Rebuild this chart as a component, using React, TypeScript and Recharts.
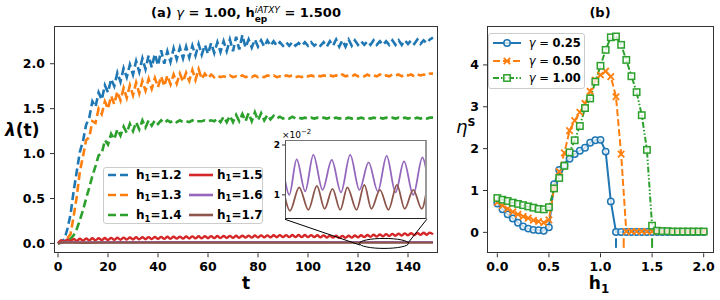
import React from "react";
import { LineChart, Line, XAxis, YAxis, ReferenceLine, ReferenceDot } from "recharts";

const FONT = "'DejaVu Sans', sans-serif";
const BLUE = "#1f77b4";
const ORANGE = "#ff7f0e";
const GREEN = "#2ca02c";
const RED = "#d62728";
const PURPLE = "#9467bd";
const BROWN = "#8c564b";

// ---- panel (a): lambda(t) ----
const T = [
  0, 1.25, 2.5, 3.75, 5, 6.25, 7.5, 8.75, 10, 11.25,
  12.5, 13.75, 15, 16.25, 17.5, 18.75, 20, 21.25, 22.5, 23.75,
  25, 26.25, 27.5, 28.75, 30, 31.25, 32.5, 33.75, 35, 36.25,
  37.5, 38.75, 40, 41.25, 42.5, 43.75, 45, 46.25, 47.5, 48.75,
  50, 51.25, 52.5, 53.75, 55, 56.25, 57.5, 58.75, 60, 61.25,
  62.5, 63.75, 65, 66.25, 67.5, 68.75, 70, 71.25, 72.5, 73.75,
  75, 76.25, 77.5, 78.75, 80, 81.25, 82.5, 83.75, 85, 86.25,
  87.5, 88.75, 90, 91.25, 92.5, 93.75, 95, 96.25, 97.5, 98.75,
  100, 101.25, 102.5, 103.75, 105, 106.25, 107.5, 108.75, 110, 111.25,
  112.5, 113.75, 115, 116.25, 117.5, 118.75, 120, 121.25, 122.5, 123.75,
  125, 126.25, 127.5, 128.75, 130, 131.25, 132.5, 133.75, 135, 136.25,
  137.5, 138.75, 140, 141.25, 142.5, 143.75, 145, 146.25, 147.5, 148.75,
  150,
];

const LAM_12 = [
  0, 0.03, 0.04, 0.16, 0.32, 0.58, 0.8, 1.02, 1.14, 1.32,
  1.4, 1.58, 1.52, 1.68, 1.6, 1.76, 1.68, 1.83, 1.75, 1.9,
  1.8, 1.95, 1.85, 1.99, 1.88, 2.03, 1.91, 2.06, 1.94, 2.09,
  1.96, 2.11, 1.98, 2.15, 2.0, 2.14, 2.02, 2.17, 2.05, 2.18,
  2.06, 2.19, 2.07, 2.2, 2.09, 2.22, 2.1, 2.21, 2.11, 2.23,
  2.12, 2.24, 2.13, 2.25, 2.14, 2.27, 2.14, 2.3, 2.16, 2.32,
  2.18, 2.27, 2.18, 2.27, 2.19, 2.26, 2.19, 2.26, 2.2, 2.25,
  2.2, 2.24, 2.2, 2.24, 2.2, 2.24, 2.2, 2.23, 2.2, 2.24,
  2.2, 2.24, 2.2, 2.23, 2.2, 2.24, 2.19, 2.25, 2.2, 2.27,
  2.19, 2.26, 2.19, 2.27, 2.2, 2.26, 2.21, 2.25, 2.21, 2.25,
  2.21, 2.26, 2.21, 2.25, 2.21, 2.25, 2.21, 2.26, 2.21, 2.26,
  2.21, 2.26, 2.22, 2.26, 2.22, 2.27, 2.22, 2.26, 2.23, 2.27,
  2.29,
];

const LAM_13 = [
  0, 0.03, 0.02, 0.06, 0.1, 0.3, 0.52, 0.8, 0.97, 1.15,
  1.18, 1.36, 1.34, 1.5, 1.44, 1.58, 1.5, 1.64, 1.55, 1.69,
  1.59, 1.73, 1.62, 1.76, 1.65, 1.79, 1.67, 1.81, 1.7, 1.83,
  1.72, 1.84, 1.74, 1.86, 1.75, 1.87, 1.77, 1.88, 1.78, 1.89,
  1.8, 1.9, 1.81, 1.93, 1.82, 1.94, 1.83, 1.89, 1.84, 1.88,
  1.85, 1.87, 1.85, 1.86, 1.85, 1.87, 1.85, 1.86, 1.85, 1.87,
  1.85, 1.86, 1.85, 1.87, 1.85, 1.86, 1.85, 1.87, 1.86, 1.87,
  1.85, 1.86, 1.85, 1.87, 1.86, 1.87, 1.85, 1.86, 1.85, 1.87,
  1.86, 1.87, 1.86, 1.87, 1.86, 1.87, 1.86, 1.87, 1.86, 1.87,
  1.86, 1.88, 1.86, 1.87, 1.86, 1.88, 1.86, 1.87, 1.86, 1.88,
  1.86, 1.87, 1.86, 1.88, 1.86, 1.87, 1.86, 1.88, 1.87, 1.88,
  1.86, 1.88, 1.87, 1.88, 1.86, 1.88, 1.87, 1.88, 1.87, 1.89,
  1.89,
];

const LAM_14 = [
  0, 0.01, 0.02, 0.03, 0.05, 0.09, 0.16, 0.26, 0.37, 0.5,
  0.62, 0.75, 0.86, 0.98, 1.0, 1.15, 1.1, 1.22, 1.16, 1.27,
  1.2, 1.3, 1.23, 1.33, 1.25, 1.35, 1.27, 1.37, 1.29, 1.37,
  1.31, 1.37, 1.33, 1.37, 1.34, 1.37, 1.35, 1.37, 1.35, 1.37,
  1.35, 1.36, 1.35, 1.37, 1.35, 1.36, 1.36, 1.37, 1.36, 1.37,
  1.36, 1.39, 1.35, 1.41, 1.35, 1.42, 1.35, 1.43, 1.36, 1.44,
  1.36, 1.45, 1.36, 1.46, 1.37, 1.45, 1.37, 1.43, 1.38, 1.42,
  1.39, 1.41, 1.39, 1.4, 1.39, 1.41, 1.39, 1.4, 1.39, 1.4,
  1.39, 1.4, 1.39, 1.4, 1.39, 1.4, 1.39, 1.4, 1.39, 1.4,
  1.39, 1.4, 1.39, 1.4, 1.39, 1.4, 1.39, 1.4, 1.39, 1.4,
  1.39, 1.4, 1.39, 1.4, 1.39, 1.4, 1.39, 1.4, 1.39, 1.4,
  1.39, 1.4, 1.39, 1.4, 1.39, 1.4, 1.39, 1.4, 1.39, 1.4,
  1.4,
];

const LAM_15 = [
  0, 0.032, 0.02, 0.045, 0.025, 0.05, 0.028, 0.052, 0.03, 0.055,
  0.033, 0.057, 0.035, 0.058, 0.036, 0.06, 0.038, 0.062, 0.04, 0.063,
  0.041, 0.065, 0.043, 0.066, 0.044, 0.068, 0.046, 0.069, 0.047, 0.07,
  0.048, 0.072, 0.05, 0.073, 0.051, 0.074, 0.052, 0.075, 0.053, 0.076,
  0.054, 0.077, 0.055, 0.078, 0.056, 0.079, 0.057, 0.08, 0.058, 0.081,
  0.059, 0.082, 0.06, 0.083, 0.061, 0.084, 0.062, 0.085, 0.063, 0.086,
  0.064, 0.087, 0.065, 0.088, 0.066, 0.089, 0.067, 0.09, 0.068, 0.091,
  0.069, 0.092, 0.07, 0.092, 0.07, 0.093, 0.071, 0.093, 0.071, 0.093,
  0.071, 0.092, 0.07, 0.091, 0.068, 0.089, 0.066, 0.087, 0.064, 0.085,
  0.062, 0.084, 0.062, 0.086, 0.064, 0.088, 0.067, 0.091, 0.07, 0.094,
  0.073, 0.097, 0.076, 0.1, 0.079, 0.103, 0.082, 0.106, 0.085, 0.109,
  0.088, 0.112, 0.091, 0.114, 0.093, 0.116, 0.095, 0.118, 0.097, 0.12,
  0.1,
];

// h1 = 1.6 / 1.7 stay near 1e-2 on the main scale
const LAM_16_T = [0, 2.5, 10, 30, 60, 90, 120, 150];
const LAM_16 = [0, 0.013, 0.012, 0.013, 0.013, 0.013, 0.014, 0.014];
const LAM_17_T = [0, 2.5, 10, 30, 60, 90, 120, 150];
const LAM_17 = [0, 0.01, 0.008, 0.009, 0.009, 0.009, 0.009, 0.009];

// inset, t in [120, 140], values in units of 1e-2
const ZOOM_16_T = [120, 120.6, 121.65, 122.85, 124, 125.3, 126.6, 127.9, 129.2, 130.5, 131.8, 133.1, 134.35, 135.6, 136.8, 138.1, 139.4, 140];
const ZOOM_16 = [1.3, 1.0, 1.71, 1.07, 1.8, 1.1, 1.7, 1.05, 1.8, 1.1, 1.65, 1.07, 1.78, 1.05, 1.67, 1.0, 1.75, 1.45];
const ZOOM_17_T = [120, 120.7, 122, 123.3, 124.5, 125.6, 126.7, 127.8, 128.8, 130.1, 131.2, 132.2, 133.4, 134.6, 135.8, 136.9, 138.1, 139.3, 140];
const ZOOM_17 = [0.95, 0.68, 1.15, 0.7, 1.18, 0.72, 1.12, 0.7, 1.15, 0.7, 1.2, 0.72, 1.1, 0.7, 1.2, 0.72, 1.1, 0.72, 1.1];

const T_TICKS = [0, 20, 40, 60, 80, 100, 120, 140];
const LAM_TICKS = [0, 0.5, 1, 1.5, 2];

// ---- panel (b): eta^S vs h1 ----
const H = [
  0, 0.05, 0.1, 0.15, 0.2, 0.25, 0.3, 0.35, 0.4, 0.45,
  0.5, 0.55, 0.6, 0.65, 0.7, 0.75, 0.8, 0.85, 0.9, 0.95,
  1.0, 1.05, 1.1, 1.15, 1.2, 1.25, 1.3, 1.35, 1.4, 1.45,
  1.5, 1.55, 1.6, 1.65, 1.7, 1.75, 1.8, 1.85, 1.9, 1.95,
  2.0,
];
const ETA_025 = [
  0.69, 0.55, 0.43, 0.33, 0.23, 0.14, 0.09, 0.06, 0.05, 0.04,
  0.12, 1.15, 1.49, 1.6, 1.76, 1.87, 1.95, 2.02, 2.14, 2.2,
  2.21, 1.93, 0.74, 0.01, 0.01, 0.01, 0.01, 0.01, 0.01, 0.01,
  0.01, 0.01, 0.01, 0.01, 0.01, 0.01, 0.01, 0.01, 0.01, 0.01,
  0.01,
];
const ETA_050 = [
  0.72, 0.64, 0.56, 0.49, 0.43, 0.38, 0.34, 0.29, 0.26, 0.23,
  0.3, 1.05, 1.45, 1.9, 2.43, 2.67, 2.87, 3.08, 3.37, 3.64,
  3.76, 3.85, 3.72, 3.24, 1.87, 0.02, 0.02, 0.02, 0.02, 0.02,
  0.02, 0.02, 0.02, 0.02, 0.02, 0.02, 0.02, 0.02, 0.02, 0.02,
  0.02,
];
const ETA_100 = [
  0.82, 0.78, 0.75, 0.71, 0.68, 0.65, 0.62, 0.59, 0.56, 0.55,
  0.6, 1.05, 1.3, 1.59, 1.91, 2.2, 2.54, 2.97, 3.2, 3.6,
  3.98, 4.36, 4.66, 4.68, 4.48, 4.12, 3.73, 3.35, 2.8, 1.97,
  0.16, 0.04, 0.03, 0.03, 0.02, 0.02, 0.02, 0.02, 0.02, 0.02,
  0.02,
];
const H_CRIT = [1.15, 1.225, 1.5];
const H_TICKS = [0, 0.5, 1, 1.5, 2];
const ETA_TICKS = [0, 1, 2, 3, 4];

const rowsA = T.map((t, i) => ({ t, h12: LAM_12[i], h13: LAM_13[i], h14: LAM_14[i], h15: LAM_15[i] }));
const rows16 = LAM_16_T.map((t, i) => ({ t, v: LAM_16[i] }));
const rows17 = LAM_17_T.map((t, i) => ({ t, v: LAM_17[i] }));
const zoom16 = ZOOM_16_T.map((t, i) => ({ t, v: ZOOM_16[i] }));
const zoom17 = ZOOM_17_T.map((t, i) => ({ t, v: ZOOM_17[i] }));
const rowsB = H.map((h, i) => ({ h, g025: ETA_025[i], g050: ETA_050[i], g100: ETA_100[i] }));

const seriesA = [
  { key: "h12", label: "1.2", color: BLUE, dashed: true },
  { key: "h13", label: "1.3", color: ORANGE, dashed: true },
  { key: "h14", label: "1.4", color: GREEN, dashed: true },
  { key: "h15", label: "1.5", color: RED, dashed: false },
  { key: "h16", label: "1.6", color: PURPLE, dashed: false },
  { key: "h17", label: "1.7", color: BROWN, dashed: false },
];

const DASH_A = "8 4";
const DASH_B = "7 3";
const DASH_DOT_B = "6 2 1.5 2 1.5 2";

const seriesB = [
  { key: "g025", label: "0.25", color: BLUE, dash: undefined as string | undefined, marker: "o" },
  { key: "g050", label: "0.50", color: ORANGE, dash: DASH_B, marker: "x" },
  { key: "g100", label: "1.00", color: GREEN, dash: DASH_DOT_B, marker: "s" },
];

const tick = { fill: "#000", fontSize: 12.5, fontWeight: 700, fontFamily: FONT };
const tickLine = { stroke: "#333" };

function Marker({ kind, cx, cy, color }: { kind: string; cx: number; cy: number; color: string }) {
  if (kind === "o") return <circle cx={cx} cy={cy} r={3.2} fill="#fff" fillOpacity={0.75} stroke={color} strokeWidth={1.5} />;
  if (kind === "s")
    return <rect x={cx - 3.2} y={cy - 3.2} width={6.4} height={6.4} fill="#fff" fillOpacity={0.75} stroke={color} strokeWidth={1.5} />;
  return (
    <path
      d={`M${cx - 3.2},${cy - 3.2}L${cx + 3.2},${cy + 3.2}M${cx - 3.2},${cy + 3.2}L${cx + 3.2},${cy - 3.2}`}
      stroke={color}
      strokeWidth={1.8}
      fill="none"
    />
  );
}

function dotFor(kind: string, color: string) {
  return (p: any) => {
    if (p.cx == null || p.cy == null) return <g key={`${kind}${p.index}`} />;
    return (
      <g key={`${kind}${p.index}`}>
        <Marker kind={kind} cx={p.cx} cy={p.cy} color={color} />
      </g>
    );
  };
}

const frame = (left: number, top: number, width: number, height: number, border = "1px solid #333") => (
  <div
    style={{
      position: "absolute",
      left,
      top,
      width,
      height,
      border,
      boxSizing: "border-box",
      pointerEvents: "none",
    }}
  />
);

const H1 = ({ size }: { size: number }) => (
  <span>
    h<span style={{ fontSize: size * 0.7, position: "relative", top: size * 0.22 }}>1</span>
  </span>
);

export default function App() {
  return (
    <div style={{ position: "absolute", left: 0, top: 0, width: 720, height: 300, background: "#fff", fontFamily: FONT }}>
      {/* (a) */}
      <div style={{ position: "absolute", left: 0, top: 0 }}>
        <LineChart width={450} height={300} data={rowsA} margin={{ top: 26, right: 12, bottom: 16.7, left: 14 }}>
          <XAxis
            dataKey="t"
            type="number"
            domain={[-1.6, 152]}
            ticks={T_TICKS}
            interval={0}
            height={30}
            tickSize={4}
            tickMargin={5}
            tick={tick}
            tickLine={tickLine}
            axisLine={false}
            allowDataOverflow
          />
          <YAxis
            type="number"
            domain={[-0.11, 2.42]}
            ticks={LAM_TICKS}
            interval={0}
            width={40}
            tickSize={4}
            tickMargin={5}
            tick={tick}
            tickLine={tickLine}
            axisLine={false}
            tickFormatter={(v) => Number(v).toFixed(1)}
            allowDataOverflow
          />
          {seriesA.slice(0, 3).map((s) => (
            <Line
              key={s.key}
              dataKey={s.key}
              type="linear"
              stroke={s.color}
              strokeWidth={2.6}
              strokeDasharray={DASH_A}
              dot={false}
              isAnimationActive={false}
            />
          ))}
          <Line dataKey="h15" type="monotone" stroke={RED} strokeWidth={2.4} dot={false} isAnimationActive={false} />
          <Line data={rows16} dataKey="v" type="monotone" stroke={PURPLE} strokeWidth={2.4} dot={false} isAnimationActive={false} />
          <Line data={rows17} dataKey="v" type="monotone" stroke={BROWN} strokeWidth={2.4} dot={false} isAnimationActive={false} />
          <ReferenceDot
            x={130.4}
            y={0}
            ifOverflow="visible"
            shape={(p: any) => <ellipse cx={p.cx} cy={p.cy} rx={24.5} ry={5} fill="none" stroke="#000" strokeWidth={1} />}
          />
          <ReferenceLine segment={[{ x: 90.8, y: 0.268 }, { x: 120.8, y: -0.018 }]} stroke="#000" strokeWidth={1} ifOverflow="visible" />
          <ReferenceLine segment={[{ x: 147.5, y: 0.268 }, { x: 140.1, y: 0.008 }]} stroke="#000" strokeWidth={1} ifOverflow="visible" />
        </LineChart>
      </div>
      {frame(54, 26, 384, 227.3)}

      {/* inset */}
      <div style={{ position: "absolute", left: 255, top: 125 }}>
        <LineChart width={174} height={100} margin={{ top: 15, right: 2.3, bottom: 5.7, left: 10 }}>
          <XAxis dataKey="t" type="number" domain={[120, 140]} hide allowDataOverflow />
          <YAxis
            type="number"
            domain={[0.51, 2.1]}
            ticks={[1, 2]}
            interval={0}
            width={20}
            tickSize={3}
            tickMargin={2}
            tick={{ ...tick, fontSize: 9 }}
            tickLine={tickLine}
            axisLine={false}
            allowDataOverflow
          />
          <Line data={zoom16} dataKey="v" type="monotone" stroke={PURPLE} strokeWidth={1.8} dot={false} isAnimationActive={false} />
          <Line data={zoom17} dataKey="v" type="monotone" stroke={BROWN} strokeWidth={1.8} dot={false} isAnimationActive={false} />
        </LineChart>
      </div>
      <div
        style={{
          position: "absolute",
          left: 285,
          top: 140,
          width: 141.7,
          height: 79.3,
          borderTop: "1px solid #777",
          borderLeft: "1px solid #555",
          borderRight: "2px solid #999",
          borderBottom: "1px solid #222",
          boxSizing: "border-box",
        }}
      />
      <div style={{ position: "absolute", left: 282, top: 127, fontSize: 9, lineHeight: "10px" }}>
        ×10<sup style={{ fontSize: 7 }}>−2</sup>
      </div>

      {/* legend (a) */}
      <div
        style={{
          position: "absolute",
          left: 103,
          top: 167,
          width: 160,
          height: 57,
          border: "1px solid #ccc",
          borderRadius: 3,
          background: "rgba(255,255,255,0.8)",
          boxSizing: "border-box",
        }}
      >
        {seriesA.map((s, i) => {
          const col = Math.floor(i / 3);
          const row = i % 3;
          const x0 = col === 0 ? 3 : 84;
          const y0 = 6.5 + row * 20.2;
          return (
            <div key={s.key} style={{ position: "absolute", left: x0, top: y0 - 8, height: 16, whiteSpace: "nowrap" }}>
              <svg width={26} height={16} style={{ position: "absolute", left: 0, top: 0 }}>
                <line x1={1} y1={8} x2={25} y2={8} stroke={s.color} strokeWidth={2.6} strokeDasharray={s.dashed ? DASH_A : undefined} />
              </svg>
              <div style={{ position: "absolute", left: 29, top: 0, fontSize: 12, fontWeight: 700, lineHeight: "16px" }}>
                <H1 size={12} />={s.label}
              </div>
            </div>
          );
        })}
      </div>

      {/* (b) */}
      <div style={{ position: "absolute", left: 450, top: 0 }}>
        <LineChart width={270} height={300} data={rowsB} margin={{ top: 26, right: 6, bottom: 16.7, left: 7 }}>
          <XAxis
            dataKey="h"
            type="number"
            domain={[-0.1, 2.1]}
            ticks={H_TICKS}
            interval={0}
            height={30}
            tickSize={4}
            tickMargin={5}
            tick={tick}
            tickLine={tickLine}
            axisLine={false}
            tickFormatter={(v) => Number(v).toFixed(1)}
            allowDataOverflow
          />
          <YAxis
            type="number"
            domain={[-0.5, 4.93]}
            ticks={ETA_TICKS}
            interval={0}
            width={30}
            tickSize={4}
            tickMargin={4}
            tick={tick}
            tickLine={tickLine}
            axisLine={false}
            allowDataOverflow
          />
          {H_CRIT.map((hc, i) => (
            <ReferenceLine
              key={`crit${i}`}
              segment={[{ x: hc, y: -0.37 }, { x: hc, y: -0.14 }]}
              stroke={seriesB[i].color}
              strokeWidth={2}
            />
          ))}
          {seriesB.map((s) => (
            <Line
              key={s.key}
              dataKey={s.key}
              type="linear"
              stroke={s.color}
              strokeWidth={2}
              strokeDasharray={s.dash}
              dot={dotFor(s.marker, s.color)}
              isAnimationActive={false}
            />
          ))}
        </LineChart>
      </div>
      {frame(487, 26, 227, 227.3)}

      {/* legend (b) */}
      <div
        style={{
          position: "absolute",
          left: 488,
          top: 33,
          width: 97,
          height: 56,
          border: "1px solid #ccc",
          borderRadius: 3,
          background: "rgba(255,255,255,0.8)",
          boxSizing: "border-box",
        }}
      >
        {seriesB.map((s, i) => {
          const y0 = 8.7 + i * 17.8;
          return (
            <div key={s.key} style={{ position: "absolute", left: 2.7, top: y0 - 8, height: 16, whiteSpace: "nowrap" }}>
              <svg width={30} height={16} style={{ position: "absolute", left: 0, top: 0 }}>
                <line x1={1} y1={8} x2={29} y2={8} stroke={s.color} strokeWidth={2} strokeDasharray={s.dash} />
                <Marker kind={s.marker} cx={15} cy={8} color={s.color} />
              </svg>
              <div style={{ position: "absolute", left: 37, top: 0, fontSize: 11.5, lineHeight: "16px" }}>
                <i>γ</i> = <b>{s.label}</b>
              </div>
            </div>
          );
        })}
      </div>

      {/* titles and axis labels */}
      <div style={{ position: "absolute", left: 46, width: 400, top: 4, textAlign: "center", fontSize: 13, fontWeight: 700, lineHeight: "18px", whiteSpace: "nowrap" }}>
        (a) <i style={{ fontWeight: 400 }}>γ</i> = 1.00, h
        <span style={{ display: "inline-block", verticalAlign: "-5px", fontSize: 9, lineHeight: "9px", textAlign: "left" }}>
          <span style={{ display: "block", fontStyle: "italic", fontWeight: 400 }}>iATXY</span>
          <span style={{ display: "block" }}>ep</span>
        </span>{" "}
        = 1.500
      </div>
      <div style={{ position: "absolute", left: 550, width: 100, top: 4, textAlign: "center", fontSize: 13, fontWeight: 700, lineHeight: "18px" }}>
        (b)
      </div>
      <div style={{ position: "absolute", left: 196, width: 100, top: 275, textAlign: "center", fontSize: 17, fontWeight: 700, lineHeight: "17px" }}>
        t
      </div>
      <div style={{ position: "absolute", left: 549, width: 100, top: 275, textAlign: "center", fontSize: 17, fontWeight: 700, lineHeight: "17px" }}>
        <H1 size={17} />
      </div>
      <div style={{ position: "absolute", left: 5, top: 120, fontSize: 17, fontWeight: 700, lineHeight: "20px" }}>
        <i>λ</i>(t)
      </div>
      <div style={{ position: "absolute", left: 456, top: 117, fontSize: 18, lineHeight: "20px" }}>
        <i>η</i>
        <span style={{ fontSize: 11, fontWeight: 700, position: "relative", top: -7 }}>S</span>
      </div>
    </div>
  );
}
